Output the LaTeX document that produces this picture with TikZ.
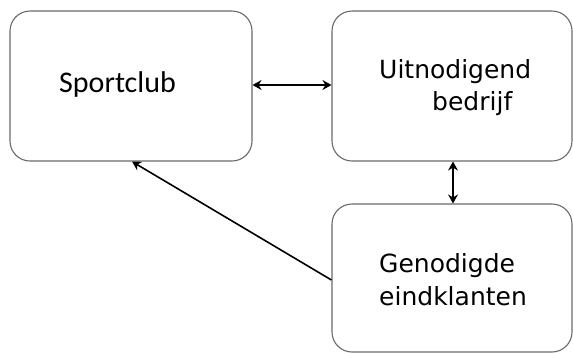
\documentclass[tikz,border=0pt]{standalone}
\usepackage{fontspec}
\setmainfont{DejaVu Sans}
\newfontfamily\clubfont{Carlito}
\usetikzlibrary{arrows.meta}
\definecolor{boxgray}{HTML}{6A6A6A}
\tikzset{
  tip/.tip={Stealth[length=9pt,width=10pt,inset=3pt]},
  entity/.style={draw=boxgray, line width=1.1pt, rounded corners=20pt, inner sep=0pt},
  lbl/.style={anchor=base west, inner sep=0pt, font=\fontsize{25}{32}\selectfont},
  link/.style={line width=1.6pt, -tip},
  biglink/.style={line width=1.6pt, tip-tip}
}
\begin{document}
\begin{tikzpicture}[x=1pt,y=-1pt]
  \useasboundingbox (0,0) rectangle (573,354);
  % the three parties
  \node[entity, minimum width=242pt, minimum height=150pt] (club) at (131,86) {};
  \node[entity, minimum width=240pt, minimum height=150pt] (firm) at (452,86) {};
  \node[entity, minimum width=240pt, minimum height=148pt] (guests) at (452,278) {};
  % labels
  \node[anchor=base west, inner sep=0pt, font=\clubfont\fontsize{30}{36}\selectfont] (clubtxt) at (59,92) {Sportclub};
  \node[lbl] (firmtxtA) at (379,78) {Uitnodigend};
  \node[lbl] (firmtxtB) at (432,110) {bedrijf};
  \node[lbl] (guesttxtA) at (379,272) {Genodigde};
  \node[lbl] (guesttxtB) at (379,305) {eindklanten};
  % relations
  \draw[biglink] (club.east |- 0,85) -- (firm.west |- 0,85);
  \draw[biglink] (firm.south -| 453,0) -- (guests.north -| 453,0);
  \coordinate (clubin) at (club.south -| 132,0);
  \draw[link] (guests.west |- 0,280) -- (clubin);
\end{tikzpicture}
\end{document}
